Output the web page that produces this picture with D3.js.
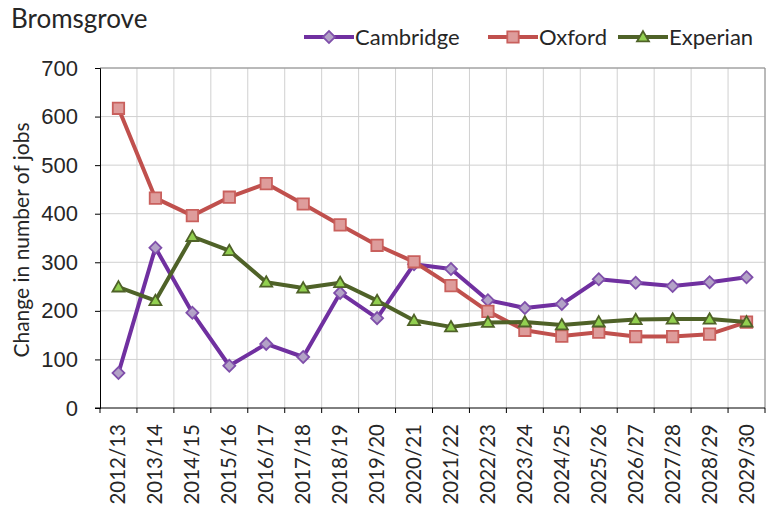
<!DOCTYPE html>
<html>
<head>
<meta charset="utf-8">
<script src="https://cdn.jsdelivr.net/npm/d3@7"></script>
<style>
  body { margin: 0; background: #fff; }
  svg { font-family: Lato, "Open Sans", sans-serif; }
</style>
</head>
<body>
<div id="viz"></div>
<script>
const years = ['2012/13', '2013/14', '2014/15', '2015/16', '2016/17', '2017/18', '2018/19', '2019/20', '2020/21',
  '2021/22', '2022/23', '2023/24', '2024/25', '2025/26', '2026/27', '2027/28', '2028/29', '2029/30'];
const cambridge = [72, 330, 196, 87, 132, 105, 237, 185, 296, 286, 222, 206, 214, 265, 258, 251, 259, 269];
const oxford = [617, 432, 396, 434, 462, 420, 377, 335, 301, 252, 199, 160, 148, 156, 147, 147, 152, 177];
const experian = [249, 221, 353, 324, 259, 247, 258, 221, 180, 167, 176, 177, 171, 177, 182, 183, 183, 177];
const yTicks = [0, 100, 200, 300, 400, 500, 600, 700];

const width = 770;
const height = 510;
const margin = {top: 68, right: 5, bottom: 102, left: 100};

// marker: symbol type, size, rotation, vertical nudge
const series = [
  {name: 'Cambridge', values: cambridge, line: '#7030A0', fill: '#B3A2C7', stroke: '#7F4FAA',
    symbol: d3.symbolSquare, size: 72, rot: 45, dy: 0},
  {name: 'Oxford', values: oxford, line: '#C0504D', fill: '#DE9C9B', stroke: '#C9605D',
    symbol: d3.symbolSquare, size: 130, rot: 0, dy: 0},
  {name: 'Experian', values: experian, line: '#4F6228', fill: '#92D050', stroke: '#4F6228',
    symbol: d3.symbolTriangle, size: 62, rot: 0, dy: 1}
];

const x = d3.scaleBand()
  .domain(years)
  .range([margin.left, width - margin.right]);

const y = d3.scaleLinear()
  .domain([0, 700])
  .range([height - margin.bottom, margin.top]);

const svg = d3.select('#viz')
  .append('svg')
  .attr('width', width)
  .attr('height', height);

// gridlines
const boundaries = years.map(d => x(d)).concat([width - margin.right]);
svg.append('g')
  .selectAll('line')
  .data(boundaries.slice(1))
  .join('line')
    .attr('x1', d => d).attr('x2', d => d)
    .attr('y1', margin.top).attr('y2', height - margin.bottom)
    .attr('stroke', '#d0d0d0');

svg.append('g')
  .selectAll('line')
  .data(yTicks.slice(1))
  .join('line')
    .attr('x1', margin.left).attr('x2', width - margin.right)
    .attr('y1', d => y(d)).attr('y2', d => y(d))
    .attr('stroke', '#d0d0d0');

// top / right frame
svg.append('path')
  .attr('d', `M${margin.left},${margin.top}H${width - margin.right}V${height - margin.bottom}`)
  .attr('fill', 'none')
  .attr('stroke', '#8c8c8c');

// y axis
const yAxis = svg.append('g')
  .attr('transform', `translate(${margin.left},0)`)
  .call(d3.axisLeft(y).tickValues(yTicks).tickSize(5).tickPadding(17));
yAxis.select('.domain').attr('stroke', '#000');
yAxis.selectAll('.tick text').attr('font-size', 22).attr('fill', '#262626');

// x axis (ticks on boundaries)
const base = height - margin.bottom;
svg.append('line')
  .attr('x1', margin.left - 5).attr('x2', width - margin.right)
  .attr('y1', base).attr('y2', base)
  .attr('stroke', '#000');
svg.append('g')
  .selectAll('line')
  .data(boundaries)
  .join('line')
    .attr('x1', d => d).attr('x2', d => d)
    .attr('y1', base).attr('y2', base + 5)
    .attr('stroke', '#000');

svg.append('g')
  .selectAll('text')
  .data(years)
  .join('text')
    .attr('transform', d => `translate(${x(d) + x.bandwidth() / 2 + 7},${base + 16}) rotate(-90)`)
    .attr('text-anchor', 'end')
    .attr('font-size', 20.5)
    .attr('fill', '#262626')
    .text(d => d);

// y title
svg.append('text')
  .attr('transform', `translate(29,${(margin.top + base) / 2 + 2}) rotate(-90)`)
  .attr('text-anchor', 'middle')
  .attr('font-size', 21)
  .attr('fill', '#262626')
  .text('Change in number of jobs');

// title
svg.append('text')
  .attr('x', 11).attr('y', 28)
  .attr('font-size', 26)
  .attr('fill', '#262626')
  .text('Bromsgrove');

// lines
const line = d3.line()
  .x((d, i) => x(years[i]) + x.bandwidth() / 2)
  .y(d => y(d));

const marker = (sel, s) => sel
  .attr('d', d3.symbol().type(s.symbol).size(s.size))
  .attr('fill', s.fill)
  .attr('stroke', s.stroke)
  .attr('stroke-width', 1.8);

series.forEach(s => {
  svg.append('path')
    .attr('d', line(s.values))
    .attr('fill', 'none')
    .attr('stroke', s.line)
    .attr('stroke-width', 4)
    .attr('stroke-linejoin', 'round');

  svg.append('g')
    .selectAll('path')
    .data(s.values)
    .join('path')
      .attr('transform', (d, i) => `translate(${x(years[i]) + x.bandwidth() / 2},${y(d) + s.dy}) rotate(${s.rot})`)
      .call(marker, s);
});

// legend
const legendX = [304, 488, 618];
series.forEach((s, i) => {
  const g = svg.append('g').attr('transform', `translate(${legendX[i]},37)`);
  g.append('line')
    .attr('x1', 0).attr('x2', 50)
    .attr('stroke', s.line)
    .attr('stroke-width', 4);
  g.append('path')
    .attr('transform', `translate(25,${s.dy}) rotate(${s.rot})`)
    .call(marker, s);
  g.append('text')
    .attr('x', 51).attr('y', 8)
    .attr('font-size', 22)
    .attr('fill', '#262626')
    .text(s.name);
});
</script>
</body>
</html>
